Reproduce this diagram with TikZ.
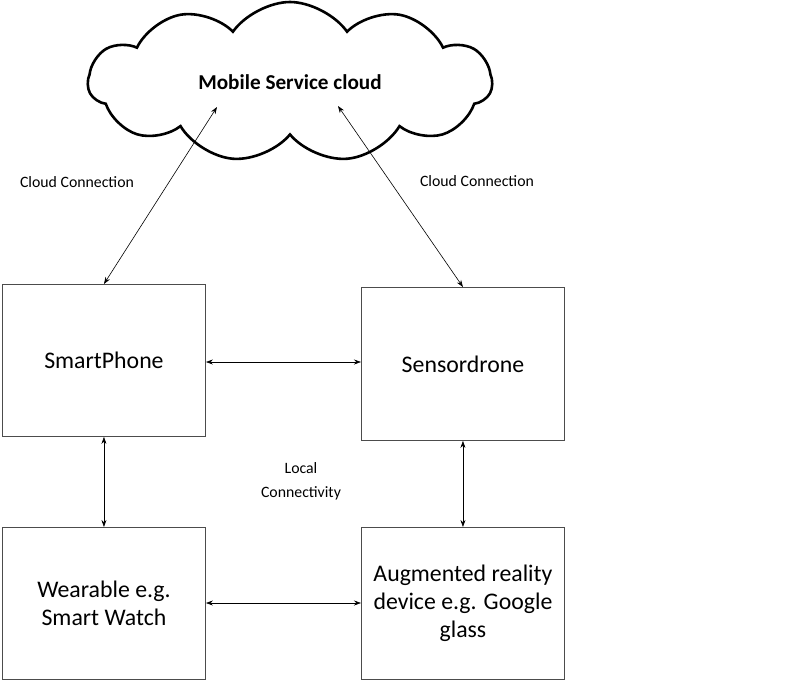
\documentclass[tikz,border=0pt]{standalone}
\usepackage{fontspec}
\setmainfont{Carlito}
\usetikzlibrary{shapes.symbols,arrows.meta}
\begin{document}
\begin{tikzpicture}[x=1pt,y=-1pt,
  devbox/.style={draw=black!70,line width=0.9pt,minimum width=203pt,anchor=north west,align=center,font=\fontsize{23.8}{28}\selectfont,inner sep=0pt},
  conn/.style={{Stealth[length=7pt,width=5pt]}-{Stealth[length=7pt,width=5pt]},line width=0.6pt},
  lbl/.style={font=\fontsize{15.8}{24}\selectfont,align=center}]
\useasboundingbox (0,0) rectangle (788,681);
\node[cloud,draw,line width=2.6pt,cloud puffs=11,cloud puff arc=110,aspect=2.6,
  minimum width=404pt,minimum height=160pt,inner sep=0pt,
  font=\bfseries\fontsize{21.2}{24}\selectfont] (cloud) at (290,82) {Mobile Service cloud};
\node[devbox,minimum height=152pt] (sp) at (2,284) {SmartPhone};
\node[devbox,minimum height=153pt] (sd) at (361,287) {Sensordrone};
\node[devbox,minimum height=152pt] (wr) at (2,527) {Wearable e.g.\\Smart Watch};
\node[devbox,minimum height=152pt] (ar) at (361,527) {Augmented reality\\device e.g. Google\\glass};
\coordinate (c1) at (217,107);
\coordinate (c2) at (338,106);
\draw[conn] (sp.north) -- (c1);
\draw[conn] (sd.north) -- (c2);
\draw[conn] (sp.east |- 0,362) -- (sd.west |- 0,362);
\draw[conn] (wr.east |- 0,603) -- (ar.west |- 0,603);
\draw[conn] (sp.south) -- (wr.north);
\draw[conn] (sd.south) -- (ar.north);
\node[lbl] (l1) at (77,182) {Cloud Connection};
\node[lbl] (l2) at (477,181) {Cloud Connection};
\node[lbl] (l3) at (301,481) {Local\\Connectivity};
\end{tikzpicture}
\end{document}
